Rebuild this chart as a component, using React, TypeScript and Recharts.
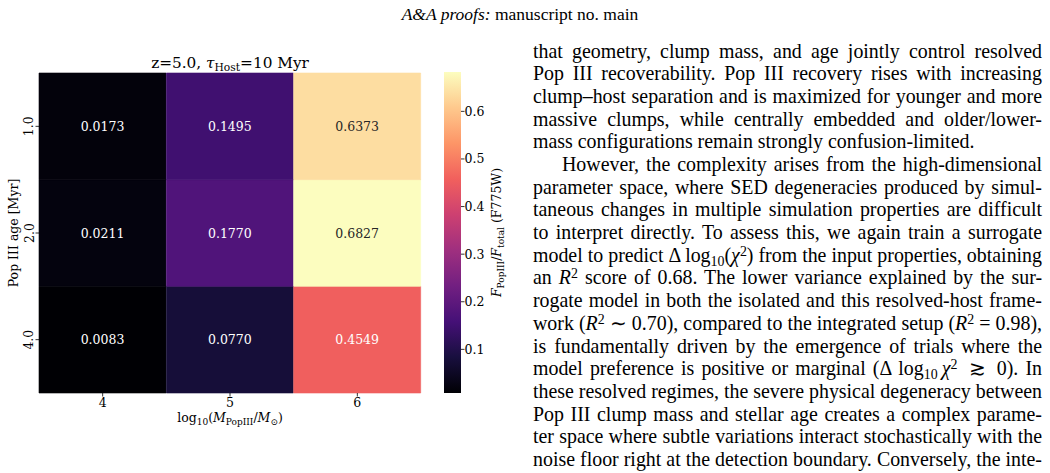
import { BarChart, Bar, XAxis, YAxis, Cell, LabelList } from "recharts";

// grid axes
const masses = ["4", "5", "6"];
const ageLabels = ["1.0", "2.0", "4.0"]; // top to bottom

// F_PopIII / F_total per age row, one value per mass column
const fracAge1 = [0.0173, 0.1495, 0.6373];
const fracAge2 = [0.0211, 0.177, 0.6827];
const fracAge4 = [0.0083, 0.077, 0.4549];

const cbTicks = [0.1, 0.2, 0.3, 0.4, 0.5, 0.6];

// magma, 10 evenly spaced samples
const MAGMA = [
  "#000004", "#180f3e", "#451077", "#721f81", "#9f2f7f",
  "#cd4071", "#f1605d", "#fd9567", "#fec98d", "#fcfdbf",
];

const SERIF = "'DejaVu Serif', serif";
const TIMES = "'Liberation Serif', 'Times New Roman', serif";

const allVals = [...fracAge1, ...fracAge2, ...fracAge4];
const vmin = Math.min(...allVals);
const vmax = Math.max(...allVals);

const hexToRgb = (h: string) => [1, 3, 5].map((i) => parseInt(h.slice(i, i + 2), 16));

const magma = (v: number) => {
  const t = Math.max(0, Math.min(1, (v - vmin) / (vmax - vmin)));
  const pos = t * (MAGMA.length - 1);
  const i = Math.min(Math.floor(pos), MAGMA.length - 2);
  const f = pos - i;
  const a = hexToRgb(MAGMA[i]);
  const b = hexToRgb(MAGMA[i + 1]);
  const c = a.map((x, k) => Math.round(x + (b[k] - x) * f));
  return `rgb(${c[0]},${c[1]},${c[2]})`;
};

// seaborn-style annotation colour: dark text on light cells
const textColor = (v: number) => {
  const rgb = magma(v).match(/\d+/g)!.map((x) => Number(x) / 255);
  const lin = rgb.map((c) => (c <= 0.03928 ? c / 12.92 : Math.pow((c + 0.055) / 1.055, 2.4)));
  const lum = 0.2126 * lin[0] + 0.7152 * lin[1] + 0.0722 * lin[2];
  return lum > 0.408 ? "#262626" : "#ffffff";
};

// stacked from the bottom row up
const rowsBottomUp = [
  { key: "a4", vals: fracAge4 },
  { key: "a2", vals: fracAge2 },
  { key: "a1", vals: fracAge1 },
];

const cells = masses.map((m, i) => {
  const d: Record<string, string | number> = { mass: m };
  rowsBottomUp.forEach((r) => {
    d[r.key] = 1;
    d[r.key + "v"] = r.vals[i];
  });
  return d;
});

const cbData = [{ name: "cb", range: [vmin, vmax] }];

const tickStyle = { fill: "#000", fontSize: 12.5, fontFamily: SERIF };

const AgeTick = (props: any) => {
  const { x, y, payload } = props;
  const label = ageLabels[2 - Math.floor(payload.value)];
  return (
    <text x={x} y={y} transform={`rotate(-90 ${x} ${y})`} textAnchor="middle" {...tickStyle}>
      {label}
    </text>
  );
};

const CellLabel = (props: any) => {
  const { x, y, width, height, value } = props;
  return (
    <text
      x={x + width / 2}
      y={y + height / 2}
      textAnchor="middle"
      dominantBaseline="central"
      fill={textColor(value)}
      fontSize={12.5}
      fontFamily={SERIF}
    >
      {Number(value).toFixed(4)}
    </text>
  );
};

const MassLabel = (props: any) => {
  const vb = props.viewBox;
  return (
    <text x={vb.x + vb.width / 2} y={422} textAnchor="middle" fontSize={12.5} fontFamily={SERIF} fill="#000">
      <tspan>log</tspan>
      <tspan fontSize="9" dy="3">10</tspan>
      <tspan dy="-3">(</tspan>
      <tspan fontStyle="italic">M</tspan>
      <tspan fontSize="9" dy="3">PopIII</tspan>
      <tspan dy="-3">/</tspan>
      <tspan fontStyle="italic">M</tspan>
      <tspan fontSize="9" dy="3">⊙</tspan>
      <tspan dy="-3">)</tspan>
    </text>
  );
};

const AgeLabel = (props: any) => {
  const vb = props.viewBox;
  const x = 17.5;
  const y = vb.y + vb.height / 2;
  return (
    <text x={x} y={y} transform={`rotate(-90 ${x} ${y})`} textAnchor="middle" fontSize={12.5} fontFamily={SERIF} fill="#000">
      Pop III age [Myr]
    </text>
  );
};

const CbLabel = (props: any) => {
  const vb = props.viewBox;
  const x = 57;
  const y = vb.y + vb.height / 2;
  return (
    <text x={x} y={y} transform={`rotate(-90 ${x} ${y})`} textAnchor="middle" fontSize={12.5} fontFamily={SERIF} fill="#000">
      <tspan fontStyle="italic">F</tspan>
      <tspan fontSize="9" dy="3">PopIII</tspan>
      <tspan dy="-3">/</tspan>
      <tspan fontStyle="italic">F</tspan>
      <tspan fontSize="9" dy="3">total</tspan>
      <tspan dy="-3">{" (F775W)"}</tspan>
    </text>
  );
};

const sub = { fontSize: "0.7em", position: "relative" as const, top: "0.3em", lineHeight: 0 };
const sup = { fontSize: "0.7em", position: "relative" as const, top: "-0.45em", lineHeight: 0 };

// body text, one entry per typeset line
const lines: { text: React.ReactNode; indent?: boolean; last?: boolean }[] = [
  { text: "that geometry, clump mass, and age jointly control resolved" },
  { text: "Pop III recoverability. Pop III recovery rises with increasing" },
  { text: "clump–host separation and is maximized for younger and more" },
  { text: "massive clumps, while centrally embedded and older/lower-" },
  { text: "mass configurations remain strongly confusion-limited.", last: true },
  { text: "However, the complexity arises from the high-dimensional", indent: true },
  { text: "parameter space, where SED degeneracies produced by simul-" },
  { text: "taneous changes in multiple simulation properties are difficult" },
  { text: "to interpret directly. To assess this, we again train a surrogate" },
  {
    text: (
      <>
        model to predict Δ log<span style={sub}>10</span>(<i>χ</i>
        <span style={sup}>2</span>) from the input properties, obtaining
      </>
    ),
  },
  {
    text: (
      <>
        an <i>R</i>
        <span style={sup}>2</span> score of 0.68. The lower variance explained by the sur-
      </>
    ),
  },
  { text: "rogate model in both the isolated and this resolved-host frame-" },
  {
    text: (
      <>
        work (<i>R</i>
        <span style={sup}>2</span> ∼ 0.70), compared to the integrated setup (<i>R</i>
        <span style={sup}>2</span> = 0.98),
      </>
    ),
  },
  { text: "is fundamentally driven by the emergence of trials where the" },
  {
    text: (
      <>
        model preference is positive or marginal (Δ log<span style={sub}>10</span>
        {"\u2009"}
        <i>χ</i>
        <span style={sup}>2</span>
        {"\u2009 ≳ \u2009"}0). In
      </>
    ),
  },
  { text: "these resolved regimes, the severe physical degeneracy between" },
  { text: "Pop III clump mass and stellar age creates a complex parame-" },
  { text: "ter space where subtle variations interact stochastically with the" },
  { text: "noise floor right at the detection boundary. Conversely, the inte-" },
];

export default function App() {
  return (
    <div
      style={{
        position: "absolute",
        left: 0,
        top: 0,
        width: 1050,
        height: 473,
        overflow: "hidden",
        background: "#fff",
      }}
    >
      <svg width={0} height={0} style={{ position: "absolute" }}>
        <defs>
          <linearGradient id="magmaGrad" x1="0" y1="1" x2="0" y2="0">
            {MAGMA.map((c, i) => (
              <stop key={c} offset={i / (MAGMA.length - 1)} stopColor={c} />
            ))}
          </linearGradient>
        </defs>
      </svg>

      {/* running head */}
      <svg width={1050} height={30} style={{ position: "absolute", left: 0, top: 0 }}>
        <text x={520} y={20} textAnchor="middle" fontFamily={TIMES} fontSize={17.5} fill="#000">
          <tspan fontStyle="italic">A&amp;A proofs:</tspan>
          <tspan> manuscript no. main</tspan>
        </text>
      </svg>

      {/* title */}
      <svg width={520} height={80} style={{ position: "absolute", left: 0, top: 0 }}>
        <text x={230} y={68} textAnchor="middle" fontFamily={SERIF} fontSize={15.3} fill="#000">
          <tspan>z=5.0, </tspan>
          <tspan fontStyle="italic">τ</tspan>
          <tspan fontSize="10.7" dy="3">Host</tspan>
          <tspan dy="-3">=10 Myr</tspan>
        </text>
      </svg>

      <div style={{ position: "absolute", left: 0, top: 0 }}>
        <BarChart
          width={520}
          height={440}
          data={cells}
          margin={{ top: 73, right: 99, bottom: 0, left: 0 }}
          barCategoryGap={0}
          barGap={0}
        >
          <XAxis
            dataKey="mass"
            height={47}
            axisLine={false}
            tickSize={3.5}
            tickLine={{ stroke: "#000", strokeWidth: 0.8 }}
            tick={tickStyle}
            label={MassLabel}
          />
          <YAxis
            type="number"
            domain={[0, 3]}
            ticks={[0.5, 1.5, 2.5]}
            interval={0}
            width={39}
            axisLine={false}
            tickSize={3.5}
            tickLine={{ stroke: "#000", strokeWidth: 0.8 }}
            tick={AgeTick}
            label={AgeLabel}
          />
          {rowsBottomUp.map((r) => (
            <Bar key={r.key} dataKey={r.key} stackId="grid" isAnimationActive={false}>
              {cells.map((d, i) => (
                <Cell
                  key={i}
                  fill={magma(d[r.key + "v"] as number)}
                  stroke={magma(d[r.key + "v"] as number)}
                  strokeWidth={0.6}
                />
              ))}
              <LabelList dataKey={r.key + "v"} content={CellLabel} />
            </Bar>
          ))}
        </BarChart>
      </div>

      {/* colorbar */}
      <div style={{ position: "absolute", left: 444, top: 72 }}>
        <BarChart
          width={77}
          height={321}
          data={cbData}
          margin={{ top: 0, right: 0, bottom: 0, left: 0 }}
          barCategoryGap={0}
        >
          <XAxis dataKey="name" hide />
          <YAxis
            type="number"
            orientation="right"
            domain={[vmin, vmax]}
            ticks={cbTicks}
            interval={0}
            width={60}
            axisLine={false}
            tickSize={3.5}
            tickMargin={0}
            tickLine={{ stroke: "#000", strokeWidth: 0.8 }}
            tick={tickStyle}
            tickFormatter={(v: number) => v.toFixed(1)}
            label={CbLabel}
          />
          <Bar dataKey="range" fill="url(#magmaGrad)" isAnimationActive={false} />
        </BarChart>
      </div>

      {/* body text */}
      <div
        style={{
          position: "absolute",
          left: 533,
          top: 39.6,
          width: 509,
          fontFamily: TIMES,
          fontSize: 19.9,
          color: "#000",
        }}
      >
        {lines.map((ln, i) => (
          <div
            key={i}
            style={{
              height: 22.7,
              lineHeight: "22.7px",
              whiteSpace: "nowrap",
              wordSpacing: ln.last ? 0 : -2.5,
              textAlign: ln.last ? "left" : "justify",
              textAlignLast: ln.last ? "left" : "justify",
              paddingLeft: ln.indent ? 29 : 0,
            }}
          >
            {ln.text}
          </div>
        ))}
      </div>
    </div>
  );
}
